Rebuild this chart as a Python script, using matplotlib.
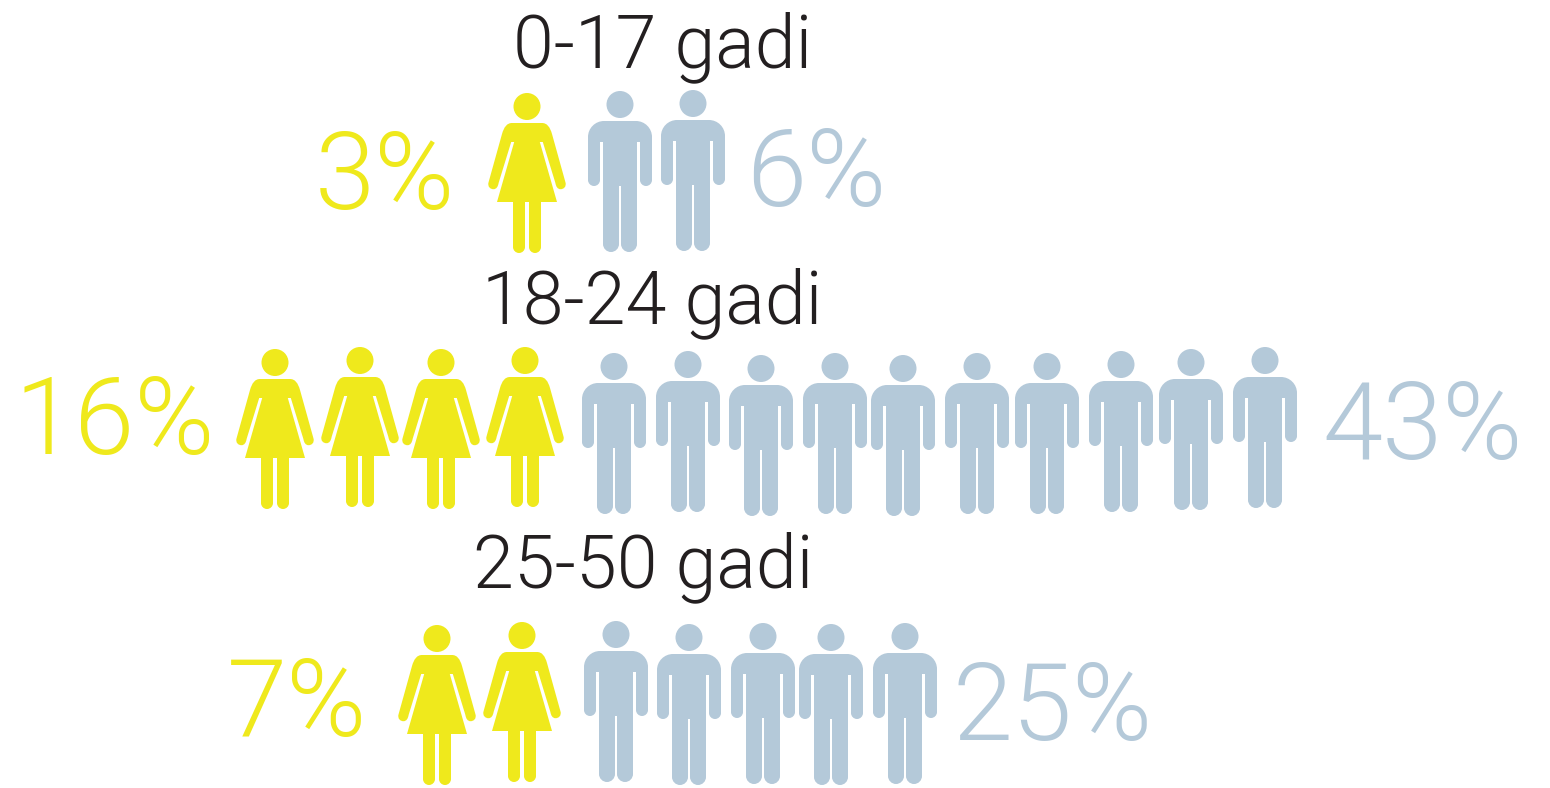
import matplotlib
matplotlib.use("Agg")
import matplotlib.pyplot as plt
from matplotlib.path import Path
from matplotlib.patches import PathPatch, Circle

plt.rcParams["font.family"] = ["Roboto", "DejaVu Sans"]

groups = ["0-17 gadi", "18-24 gadi", "25-50 gadi"]
women_pct = [3, 16, 7]
men_pct = [6, 43, 25]

YELLOW = "#efe91c"
BLUE = "#b4c9d9"
DARK = "#231f20"

# layout, in pixels of the 1550x788 picture
title_xy = [(663, 67), (652, 323), (643, 587)]
women_label_xy = [(315, 209), (15, 454), (227, 736)]
men_label_xy = [(746, 206), (1322, 459), (952, 740)]
women_icons = [
    [(527, 93)],
    [(275, 349), (360, 347), (441, 349), (525, 347)],
    [(437, 625), (522, 622)],
]
men_icons = [
    [(620, 91), (693, 90)],
    [(614, 353), (688, 351), (761, 355), (835, 353), (903, 355),
     (977, 353), (1047, 353), (1121, 351), (1191, 349), (1265, 347)],
    [(616, 621), (689, 624), (763, 623), (831, 624), (905, 623)],
]

L, C, M = Path.LINETO, Path.CURVE4, Path.MOVETO

man_half = [
    (L, 16, 30), (C, 24.8, 30), (C, 32, 37.2), (C, 32, 46),
    (L, 32, 89), (C, 32, 92.3), (C, 29.3, 95), (C, 26, 95),
    (C, 22.7, 95), (C, 20, 92.3), (C, 20, 89),
    (L, 20, 51), (L, 17, 51),
    (L, 17, 153), (C, 17, 157.4), (C, 13.4, 161), (C, 9, 161),
    (C, 4.6, 161), (C, 1, 157.4), (C, 1, 153),
    (L, 1, 95),
]
woman_half = [
    (L, 15, 30), (C, 20, 30), (C, 23, 34), (C, 25, 41),
    (L, 38.5, 89.5), (C, 39.5, 93.5), (C, 37, 96.2), (C, 33.5, 96.2),
    (C, 30.5, 96.2), (C, 29, 93.5), (C, 28.4, 90),
    (L, 15.8, 49), (L, 12.8, 49), (L, 30, 109), (L, 14, 109),
    (L, 14, 154), (C, 14, 157.3), (C, 11.3, 160), (C, 8, 160),
    (C, 4.7, 160), (C, 2, 157.3), (C, 2, 154),
    (L, 2, 109),
]


def body_path(half, cx, top):
    verts = [(cx, top + 30)]
    codes = [M]
    for code, x, y in half:
        verts.append((cx + x, top + y))
        codes.append(code)
    # other side, walked backwards so the curve control points stay in order
    back = [(x, y) for _, x, y in half][::-1]
    back_codes = [c for c, _, _ in half][::-1]
    verts.append((cx - back[0][0], top + back[0][1]))
    codes.append(L)
    for i in range(1, len(back)):
        verts.append((cx - back[i][0], top + back[i][1]))
        codes.append(back_codes[i - 1])
    verts.append((cx, top + 30))
    codes.append(L)
    return Path(verts, codes)


def draw_person(ax, half, cx, top, color):
    ax.add_patch(PathPatch(body_path(half, cx, top), fc=color, ec="none"))
    ax.add_patch(Circle((cx, top + 13.5), 13.5, fc=color, ec="none"))


fig = plt.figure(figsize=(15.5, 7.88), dpi=100)
ax = fig.add_axes([0, 0, 1, 1])
ax.set_xlim(0, 1550)
ax.set_ylim(788, 0)
ax.axis("off")

for i, name in enumerate(groups):
    ax.text(*title_xy[i], name, ha="center", va="baseline", fontsize=53,
            color=DARK, fontweight=300)
    ax.text(*women_label_xy[i], f"{women_pct[i]}%", ha="left", va="baseline",
            fontsize=78, color=YELLOW, fontweight=300)
    ax.text(*men_label_xy[i], f"{men_pct[i]}%", ha="left", va="baseline",
            fontsize=78, color=BLUE, fontweight=300)
    for cx, top in women_icons[i]:
        draw_person(ax, woman_half, cx, top, YELLOW)
    for cx, top in men_icons[i]:
        draw_person(ax, man_half, cx, top, BLUE)

fig.savefig("out.png", dpi=100)
